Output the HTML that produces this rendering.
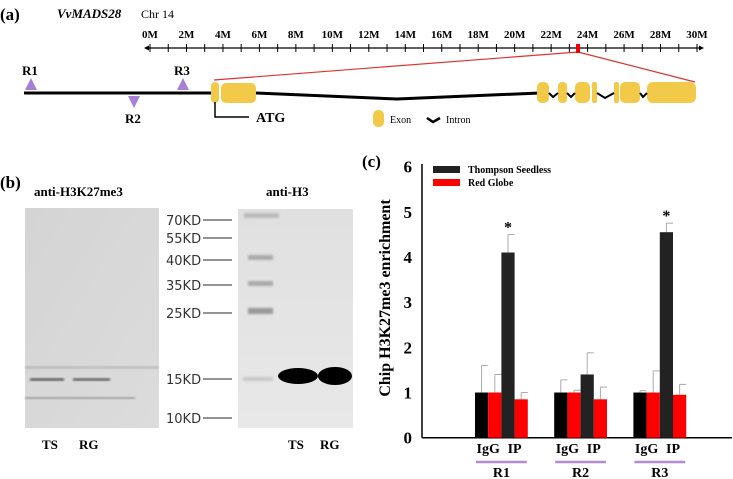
<!DOCTYPE html>
<html><head><meta charset="utf-8"><style>
body{margin:0;background:#fff;}
svg{display:block;font-family:"Liberation Serif",serif;}
</style></head><body>
<svg width="733" height="479" viewBox="0 0 733 479">
<defs>
<linearGradient id="blot1" x1="0" y1="0" x2="1" y2="1"><stop offset="0" stop-color="#d4d4d4"/><stop offset="1" stop-color="#dcdcdc"/></linearGradient>
<linearGradient id="blot2" x1="0" y1="0" x2="0" y2="1"><stop offset="0" stop-color="#e0e0e0"/><stop offset="1" stop-color="#e8e8e8"/></linearGradient>
<filter id="blur"><feGaussianBlur stdDeviation="1"/></filter>
</defs>
<g>
<text x="0" y="20" font-size="17" font-weight="bold">(a)</text>
<text x="57" y="18" font-size="13" font-weight="bold" font-style="italic">VvMADS28</text>
<text x="141" y="18" font-size="12">Chr 14</text>
<g id="scale"></g>
<line x1="578" y1="52" x2="214" y2="80" stroke="#d33" stroke-width="1.2"/>
<line x1="578" y1="52" x2="695" y2="82" stroke="#d33" stroke-width="1.2"/>
<rect x="576" y="44" width="4" height="9" fill="#e00"/>
<line x1="24" y1="93" x2="211" y2="93" stroke="#000" stroke-width="3"/>
<polyline points="256,93 397,99 540,93" fill="none" stroke="#000" stroke-width="3"/>
<g fill="#f3c94a">
<rect x="211" y="82" width="8" height="21" rx="4"/>
<rect x="221" y="83" width="35" height="20" rx="5"/>
<rect x="537" y="82" width="12" height="21" rx="5"/>
<rect x="558" y="82" width="9" height="21" rx="4"/>
<rect x="575" y="82" width="15" height="21" rx="5"/>
<rect x="592" y="82" width="5" height="21" rx="2"/>
<rect x="614" y="82" width="5" height="21" rx="2"/>
<rect x="620" y="82" width="20" height="21" rx="5"/>
<rect x="647" y="82" width="49" height="21" rx="6"/>
</g>
<g fill="none" stroke="#000" stroke-width="2">
<polyline points="549,93 553,97 558,93"/><polyline points="567,93 571,97 575,93"/>
<polyline points="597,93 605,98 614,93"/><polyline points="640,93 643,97 647,93"/>
</g>
<polyline points="215,102 215,117 249,117" fill="none" stroke="#000" stroke-width="1.5"/>
<text x="256" y="122" font-size="14" font-weight="bold">ATG</text>
<polygon points="25,90 37,90 31,78" fill="#a77fd6"/>
<text x="22" y="75" font-size="13" font-weight="bold">R1</text>
<polygon points="128,96 140,96 134,108" fill="#a77fd6"/>
<text x="125" y="123" font-size="13" font-weight="bold">R2</text>
<polygon points="177,90 189,90 183,78" fill="#a77fd6"/>
<text x="174" y="75" font-size="13" font-weight="bold">R3</text>
<rect x="373" y="110" width="11" height="17" rx="5" fill="#f3c94a"/>
<text x="390" y="123" font-size="10">Exon</text>
<polyline points="427,118 433,122 440,118" fill="none" stroke="#000" stroke-width="2.5"/>
<text x="446" y="123" font-size="10">Intron</text>
</g>
<g>
<text x="0" y="188" font-size="17" font-weight="bold">(b)</text>
<text x="34" y="196" font-size="13" font-weight="bold">anti-H3K27me3</text>
<text x="266" y="196" font-size="13" font-weight="bold">anti-H3</text>
<g>
<rect x="25" y="208" width="134" height="220" fill="url(#blot1)"/>
<rect x="25" y="366" width="134" height="3" fill="#aaa" opacity="0.6" filter="url(#blur)"/>
<rect x="30" y="378" width="34" height="3" fill="#666" filter="url(#blur)"/>
<rect x="73" y="378" width="37" height="3" fill="#6a6a6a" filter="url(#blur)"/>
<rect x="25" y="397" width="110" height="2" fill="#999" filter="url(#blur)"/>
</g>
<text x="42" y="449" font-size="13" font-weight="bold">TS</text>
<text x="79" y="449" font-size="13" font-weight="bold">RG</text>
<g>
<rect x="238" y="209" width="115" height="219" fill="url(#blot2)"/>
<g filter="url(#blur)">
<rect x="244" y="213" width="35" height="5" fill="#bbb"/>
<rect x="248" y="255" width="25" height="5" fill="#aaa"/>
<rect x="248" y="281" width="25" height="5" fill="#aaa"/>
<rect x="248" y="308" width="25" height="6" fill="#999"/>
<rect x="243" y="377" width="30" height="4" fill="#c8c8c8"/>
</g>
<ellipse cx="298" cy="376" rx="20" ry="8" fill="#000"/>
<ellipse cx="335" cy="376" rx="17" ry="9" fill="#000"/>
</g>
<g id="markers"></g>
<text x="288" y="449" font-size="13" font-weight="bold">TS</text>
<text x="320" y="449" font-size="13" font-weight="bold">RG</text>
</g>
<g id="chart">
<text x="362" y="167" font-size="17" font-weight="bold">(c)</text>
<text transform="translate(390,298) rotate(-90)" text-anchor="middle" font-size="16" font-weight="bold">Chip H3K27me3 enrichment</text>
<rect x="433" y="166" width="27" height="7" fill="#222"/>
<text x="468" y="173" font-size="10" font-weight="bold">Thompson Seedless</text>
<rect x="433" y="179" width="27" height="7" fill="#f00"/>
<text x="468" y="186" font-size="10" font-weight="bold">Red Globe</text>
</g>
</svg>
<script>
const NS='http://www.w3.org/2000/svg';
function mk(p,t,a){const e=document.createElementNS(NS,t);for(const k in a)e.setAttribute(k,a[k]);p.appendChild(e);return e;}
const sc=document.getElementById('scale');
const scaleX=m=>150+m*(697-150)/30;
mk(sc,'line',{x1:146,y1:48,x2:702,y2:48,stroke:'#000','stroke-width':1.2});
mk(sc,'polygon',{points:'144,48 149,45.5 149,50.5'});
mk(sc,'polygon',{points:'704,48 699,45.5 699,50.5'});
for(let m=0;m<=30;m++){mk(sc,'line',{x1:scaleX(m),y1:44,x2:scaleX(m),y2:52,stroke:'#000','stroke-width':1});}
for(let m=0;m<=30;m+=2){const t=mk(sc,'text',{x:scaleX(m),y:38,'text-anchor':'middle','font-size':11,'font-weight':'bold'});t.textContent=m+'M';}
const mkr=document.getElementById('markers');
const markerLabels=['70KD','55KD','40KD','35KD','25KD','15KD','10KD'];
const markerY=[220,238,260,285,313,379,418];
markerLabels.forEach((l,i)=>{const t=mk(mkr,'text',{x:166,y:markerY[i]+5,'font-size':13,fill:'#333','font-family':'DejaVu Sans, sans-serif'});t.textContent=l;
mk(mkr,'line',{x1:203,y1:markerY[i],x2:232,y2:markerY[i],stroke:'#555','stroke-width':1.2});});
const categories=['R1','R2','R3'];
const tsIgG=[1,1,1], rgIgG=[1,1,1], tsIP=[4.1,1.4,4.55], rgIP=[0.85,0.85,0.95];
const tsIgGErr=[0.6,0.28,0.04], rgIgGErr=[0.4,0.05,0.48], tsIPErr=[0.4,0.48,0.2], rgIPErr=[0.15,0.27,0.23];
const significant=[true,false,true];
const yTicks=[0,1,2,3,4,5,6];
const ch=document.getElementById('chart');
const y0=437.7,yTop=166.7,yMax=6;
const Y=v=>y0-(v/yMax)*(y0-yTop);
const groupX=i=>475+i*79.2, bw=13.2;
mk(ch,'line',{x1:422,y1:164,x2:422,y2:y0,stroke:'#000','stroke-width':1.5});
mk(ch,'line',{x1:422,y1:y0,x2:732,y2:y0,stroke:'#000','stroke-width':1.5});
yTicks.forEach(v=>{const t=mk(ch,'text',{x:412,y:Y(v)+6,'text-anchor':'end','font-size':17,'font-weight':'bold'});t.textContent=v;});
const series=[[tsIgG,tsIgGErr,'#000'],[rgIgG,rgIgGErr,'#f00'],[tsIP,tsIPErr,'#222'],[rgIP,rgIPErr,'#f00']];
categories.forEach((c,i)=>{
 series.forEach((s,j)=>{const x=groupX(i)+j*bw,v=s[0][i],e=s[1][i];
  mk(ch,'line',{x1:x+bw/2,y1:Y(v),x2:x+bw/2,y2:Y(v+e),stroke:'#aaa','stroke-width':1});
  mk(ch,'line',{x1:x+bw/2,y1:Y(v+e),x2:x+bw,y2:Y(v+e),stroke:'#aaa','stroke-width':1});
  const r=mk(ch,'rect',{x:x,y:Y(v),width:bw,height:y0-Y(v),fill:s[2]});
  
  
 });
 if(significant[i]){const t=mk(ch,'text',{x:groupX(i)+2.5*bw,y:Y(tsIP[i]+tsIPErr[i])-2,'text-anchor':'middle','font-size':16,'font-weight':'bold'});t.textContent='*';}
 const g=groupX(i);
 const a=mk(ch,'text',{x:g+bw,y:453,'text-anchor':'middle','font-size':14,'font-weight':'bold'});a.textContent='IgG';
 const b=mk(ch,'text',{x:g+3*bw,y:453,'text-anchor':'middle','font-size':14,'font-weight':'bold'});b.textContent='IP';
 mk(ch,'line',{x1:g+1,y1:462,x2:g+4*bw-1,y2:462,stroke:'#b58ad8','stroke-width':2.5});
 const l=mk(ch,'text',{x:g+2*bw,y:477,'text-anchor':'middle','font-size':14,'font-weight':'bold'});l.textContent=c;
 
 
});
</script>
</body></html>
